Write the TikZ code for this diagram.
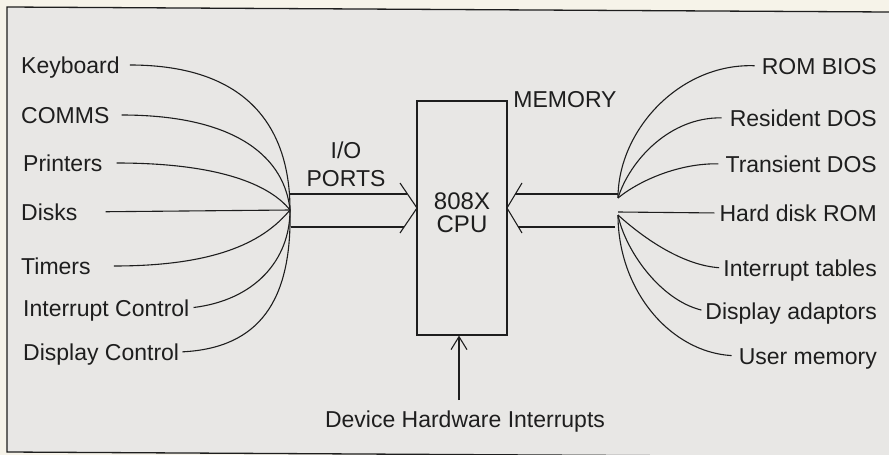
\documentclass[tikz,border=0pt]{standalone}
\usepackage{fontspec}
\setmainfont{Liberation Sans}
\usetikzlibrary{arrows.meta,calc,positioning}
\definecolor{paper}{RGB}{232,231,229}
\definecolor{margin}{RGB}{246,243,233}
\definecolor{ink}{RGB}{30,30,30}

\begin{document}
\begin{tikzpicture}[x=1pt,y=-1pt,
every node/.style={font=\fontsize{23}{26}\selectfont,text=ink,inner sep=0pt},
lab/.style={anchor=west,text height=16.5pt,text depth=0pt},
rlab/.style={anchor=east,text height=16.5pt,text depth=0pt},
wire/.style={draw=ink,line width=1.1pt}]
\useasboundingbox (0,0) rectangle (889,455);
\fill[margin] (0,0) rectangle (889,455);
\fill[paper] (7,7) -- (889,12) -- (889,457) -- (7,452) -- cycle;
\draw[ink,line width=1.3pt] (889,12) -- (7,7) -- (7,452) -- (889,457);
% the processor
\node[draw=ink,line width=1.2pt,minimum width=90pt,minimum height=234pt] (cpu) at (462,218) {};
\node[align=center,font=\fontsize{24}{23}\selectfont] (cpuname) at (462,213) {808X\\CPU};
\coordinate (iotip) at (417,208);
\coordinate (memtip) at (507,208);
% hubs
\coordinate (lhub) at (290,210);
\coordinate (rhubA) at (618,198);
\coordinate (rhubB) at (618,215);
\coordinate (rhubC) at (618,212);
% left side
\node[lab] (kbd) at (21,65) {Keyboard};
\node[lab] (comms) at (21,115) {COMMS};
\node[lab] (prn) at (23,163) {Printers};
\node[lab] (disks) at (21,212) {Disks};
\node[lab] (timers) at (21,266) {Timers};
\node[lab] (intctl) at (23,308) {Interrupt Control};
\node[lab] (dispctl) at (23,352) {Display Control};
\draw[wire,shorten <=10pt] (kbd.east) .. controls (250,65) and (290,130) .. (lhub);
\draw[wire,shorten <=12pt] (comms.east) .. controls (240,115) and (285,160) .. (lhub);
\draw[wire,shorten <=14pt] (prn.east) .. controls (220,163) and (270,185) .. (lhub);
\draw[wire,shorten <=28pt] (disks.east) -- (lhub);
\draw[wire,shorten <=23pt] (timers.east) .. controls (220,266) and (265,240) .. (lhub);
\draw[wire,shorten <=4pt] (intctl.east) .. controls (255,300) and (290,260) .. (lhub);
\draw[wire,shorten <=3pt] (dispctl.east) .. controls (260,348) and (292,300) .. (lhub);
% i/o ports
\node[align=center,font=\fontsize{23}{28}\selectfont] (ports) at (346,164) {I/O\\PORTS};
\coordinate (io1) at (290,194);
\coordinate (io2) at (291,227);
\draw[wire] (io1) -- ++(117,0);
\draw[wire] (io2) -- ++(113,0);
\draw[wire] ($(iotip)+(-17,-25)$) -- (iotip) -- ($(iotip)+(-17,25)$);
% right side
\node[rlab] (rom) at (877,66) {ROM BIOS};
\node[rlab] (resdos) at (877,118) {Resident DOS};
\node[rlab] (trdos) at (877,164) {Transient DOS};
\node[rlab] (hdrom) at (877,213) {Hard disk ROM};
\node[rlab] (inttab) at (877,268) {Interrupt tables};
\node[rlab] (dispad) at (877,311) {Display adaptors};
\node[rlab] (usermem) at (877,356) {User memory};
\draw[wire,shorten >=7pt] (rhubA) .. controls (618,130) and (680,63) .. (rom.west);
\draw[wire,shorten >=8pt] (rhubA) .. controls (630,160) and (670,117) .. (resdos.west);
\draw[wire,shorten >=7pt] (rhubA) .. controls (640,180) and (680,163) .. (trdos.west);
\draw[wire,shorten >=5pt] (rhubC) -- (hdrom.west);
\draw[wire,shorten >=4pt] (rhubB) .. controls (640,235) and (680,265) .. (inttab.west);
\draw[wire,shorten >=4pt] (rhubB) .. controls (625,250) and (660,300) .. (dispad.west);
\draw[wire,shorten >=7pt] (rhubB) .. controls (618,290) and (670,352) .. (usermem.west);
% memory
\node (memlab) at (565,100) {MEMORY};
\coordinate (mem1) at (618,194);
\coordinate (mem2) at (615,227);
\draw[wire] (mem1) -- ++(-103,0);
\draw[wire] (mem2) -- ++(-97,0);
\draw[wire] ($(memtip)+(15,-25)$) -- (memtip) -- ($(memtip)+(15,25)$);
% interrupts
\node (dev) at (465,422) {Device Hardware Interrupts};
\coordinate (devtop) at (459,400);
\draw[wire,-{Straight Barb[length=13pt,width=16pt]}] (devtop) -- (devtop |- cpu.south);
\end{tikzpicture}
\end{document}
